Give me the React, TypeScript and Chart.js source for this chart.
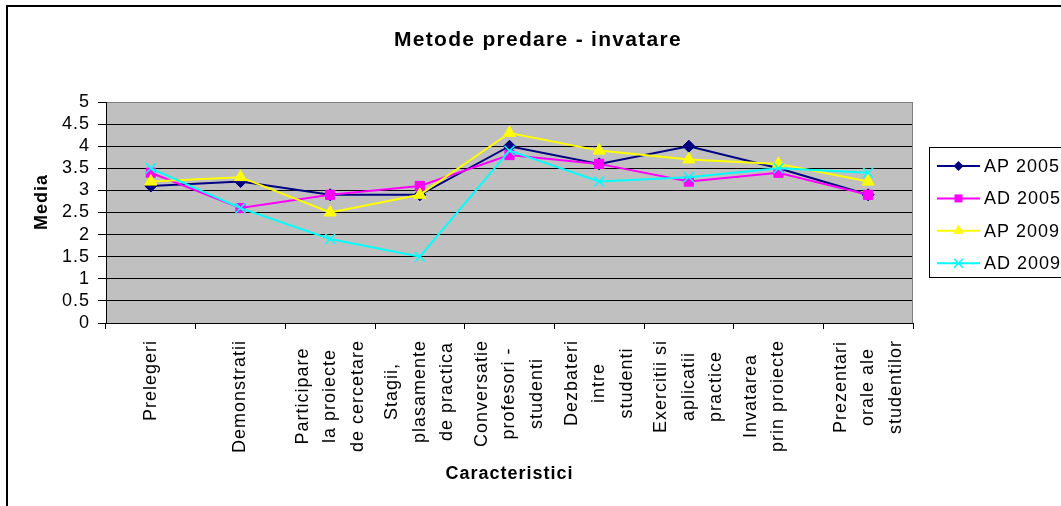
import React, { useEffect, useRef } from 'react';
import { Chart, registerables } from 'chart.js';

Chart.register(...registerables);

const FONT = 'Arial, "Liberation Sans", sans-serif';

const chartTitle = 'Metode predare - invatare';
const xAxisTitle = 'Caracteristici';
const yAxisTitle = 'Media';

const categories: string[][] = [
  ['Prelegeri'],
  ['Demonstratii'],
  ['Participare', 'la proiecte', 'de cercetare'],
  ['Stagii,', 'plasamente', 'de practica'],
  ['Conversatie', 'profesori -', 'studenti'],
  ['Dezbateri', 'intre', 'studenti'],
  ['Exercitii si', 'aplicatii', 'practice'],
  ['Invatarea', 'prin proiecte', ''],
  ['Prezentari', 'orale ale', 'studentilor'],
];

const seriesNames = ['AP 2005', 'AD 2005', 'AP 2009', 'AD 2009'];
const ap2005 = [3.1, 3.2, 2.9, 2.9, 4.0, 3.6, 4.0, 3.5, 2.9];
const ad2005 = [3.4, 2.6, 2.9, 3.1, 3.8, 3.6, 3.2, 3.4, 2.9];
const ap2009 = [3.2, 3.3, 2.5, 2.9, 4.3, 3.9, 3.7, 3.6, 3.2];
const ad2009 = [3.5, 2.6, 1.9, 1.5, 3.9, 3.2, 3.3, 3.5, 3.4];

const seriesColors = ['#000080', '#FF00FF', '#FFFF00', '#00FFFF'];
const seriesStyles = ['rectRot', 'rect', 'triangle', 'crossRot'];
const seriesRadius = [6, 6.5, 7, 7];

function drawMarker(ctx: CanvasRenderingContext2D, style: string, x: number, y: number, color: string) {
  ctx.save();
  ctx.fillStyle = color;
  ctx.strokeStyle = color;
  ctx.lineWidth = 1.5;
  ctx.beginPath();
  if (style === 'rectRot') {
    const r = 5;
    ctx.moveTo(x, y - r);
    ctx.lineTo(x + r, y);
    ctx.lineTo(x, y + r);
    ctx.lineTo(x - r, y);
    ctx.closePath();
    ctx.fill();
  } else if (style === 'rect') {
    ctx.rect(x - 4, y - 4, 8, 8);
    ctx.fill();
  } else if (style === 'triangle') {
    const r = 6;
    ctx.moveTo(x, y - r);
    ctx.lineTo(x + r * 0.866, y + r * 0.5);
    ctx.lineTo(x - r * 0.866, y + r * 0.5);
    ctx.closePath();
    ctx.fill();
  } else {
    const h = 4.5;
    ctx.moveTo(x - h, y - h);
    ctx.lineTo(x + h, y + h);
    ctx.moveTo(x + h, y - h);
    ctx.lineTo(x - h, y + h);
    ctx.stroke();
  }
  ctx.restore();
}

const customPlugin = {
  id: 'customExcel',
  beforeUpdate(chart: any) {
    chart.ctx.letterSpacing = '1px';
  },
  beforeDraw(chart: any) {
    const { ctx, chartArea } = chart;
    ctx.save();
    ctx.fillStyle = '#ffffff';
    ctx.fillRect(0, 0, chart.width, chart.height);
    ctx.fillStyle = '#C0C0C0';
    ctx.fillRect(chartArea.left, chartArea.top, chartArea.right - chartArea.left, chartArea.bottom - chartArea.top);
    ctx.restore();
    ctx.letterSpacing = '1px';
  },
  beforeDatasetsDraw(chart: any) {
    const { ctx, chartArea } = chart;
    ctx.save();
    ctx.strokeStyle = '#808080';
    ctx.lineWidth = 1;
    ctx.beginPath();
    ctx.moveTo(Math.round(chartArea.right) - 0.5, chartArea.top);
    ctx.lineTo(Math.round(chartArea.right) - 0.5, chartArea.bottom);
    ctx.stroke();
    ctx.restore();
  },
  afterDraw(chart: any) {
    const { ctx, chartArea } = chart;
    const xs = chart.scales.x;
    ctx.save();

    // outer frame
    ctx.strokeStyle = '#000';
    ctx.lineWidth = 2;
    ctx.beginPath();
    ctx.moveTo(7, 560);
    ctx.lineTo(7, 6);
    ctx.lineTo(1100, 6);
    ctx.stroke();

    // title
    ctx.fillStyle = '#000';
    ctx.letterSpacing = '1.3px';
    ctx.font = `bold 21px ${FONT}`;
    ctx.textAlign = 'center';
    ctx.textBaseline = 'alphabetic';
    ctx.fillText(chartTitle, 538, 46);

    // x axis title
    ctx.letterSpacing = '1px';
    ctx.font = `bold 18px ${FONT}`;
    ctx.fillText(xAxisTitle, (chartArea.left + chartArea.right) / 2, 479);

    // y axis title
    ctx.save();
    ctx.translate(47, 202);
    ctx.rotate(-Math.PI / 2);
    ctx.fillText(yAxisTitle, 0, 0);
    ctx.restore();

    // category labels
    ctx.font = `18px ${FONT}`;
    ctx.textAlign = 'center';
    ctx.textBaseline = 'middle';
    categories.forEach((lines, i) => {
      const cx = xs.getPixelForTick(i);
      const maxW = Math.max(...lines.map((l) => ctx.measureText(l).width));
      const cy = chartArea.bottom + 17 + maxW / 2;
      lines.forEach((line, j) => {
        if (!line) return;
        const lx = cx + (j - (lines.length - 1) / 2) * 27.5;
        ctx.save();
        ctx.translate(lx, cy);
        ctx.rotate(-Math.PI / 2);
        ctx.fillText(line, 0, 0);
        ctx.restore();
      });
    });

    // legend
    ctx.strokeStyle = '#000';
    ctx.lineWidth = 1;
    ctx.strokeRect(929.5, 147.5, 200, 130);
    ctx.textAlign = 'left';
    ctx.textBaseline = 'middle';
    ctx.font = `18px ${FONT}`;
    seriesNames.forEach((name, k) => {
      const y = 166 + k * 32.4;
      ctx.strokeStyle = seriesColors[k];
      ctx.lineWidth = 2;
      ctx.beginPath();
      ctx.moveTo(937, y);
      ctx.lineTo(980, y);
      ctx.stroke();
      drawMarker(ctx, seriesStyles[k], 958.5, y, seriesColors[k]);
      ctx.fillStyle = '#000';
      ctx.fillText(name, 984, y + 1);
    });

    ctx.restore();
  },
};

export default function App() {
  const ref = useRef<HTMLCanvasElement>(null);

  useEffect(() => {
    const seriesData = [ap2005, ad2005, ap2009, ad2009];
    const chart = new Chart(ref.current!, {
      type: 'line',
      data: {
        labels: categories.map((l) => l.filter(Boolean).join(' ')),
        datasets: seriesNames.map((name, k) => ({
          label: name,
          data: seriesData[k],
          borderColor: seriesColors[k],
          backgroundColor: seriesColors[k],
          borderWidth: 2,
          pointStyle: seriesStyles[k] as any,
          pointRadius: seriesRadius[k],
          pointBackgroundColor: seriesColors[k],
          pointBorderColor: seriesColors[k],
          pointBorderWidth: k === 3 ? 1.5 : 1,
          tension: 0,
          fill: false,
          order: 4 - k,
        })),
      },
      options: {
        responsive: false,
        animation: false,
        devicePixelRatio: 1,
        layout: { padding: { left: 0, top: 102, right: 148, bottom: 0 } },
        plugins: {
          legend: { display: false },
          title: { display: false },
          tooltip: { enabled: false },
        },
        scales: {
          x: {
            type: 'category',
            offset: true,
            grid: {
              display: true,
              drawOnChartArea: false,
              drawTicks: true,
              tickLength: 6,
              offset: true,
              color: '#000',
              lineWidth: 1,
            },
            border: { display: true, color: '#000', width: 1 },
            ticks: { display: false },
            afterFit: (s: any) => {
              s.height = 183;
            },
          },
          y: {
            min: 0,
            max: 5,
            ticks: {
              stepSize: 0.5,
              autoSkip: false,
              color: '#000',
              font: { family: FONT, size: 18 },
              padding: 8,
              callback: (v: any) => String(v),
            },
            grid: {
              color: (c: any) => (c.tick && c.tick.value === 5 ? '#808080' : '#000'),
              tickColor: '#000',
              tickLength: 8,
              lineWidth: 1,
            },
            border: { display: true, color: '#000', width: 1 },
            afterFit: (s: any) => {
              s.width = 106;
            },
          },
        },
      },
      plugins: [customPlugin],
    });
    return () => chart.destroy();
  }, []);

  return (
    <div style={{ position: 'fixed', left: 0, top: 0, width: 1061, height: 506, background: '#fff', overflow: 'hidden' }}>
      <canvas ref={ref} width={1061} height={506} style={{ display: 'block', width: 1061, height: 506 }} />
    </div>
  );
}
